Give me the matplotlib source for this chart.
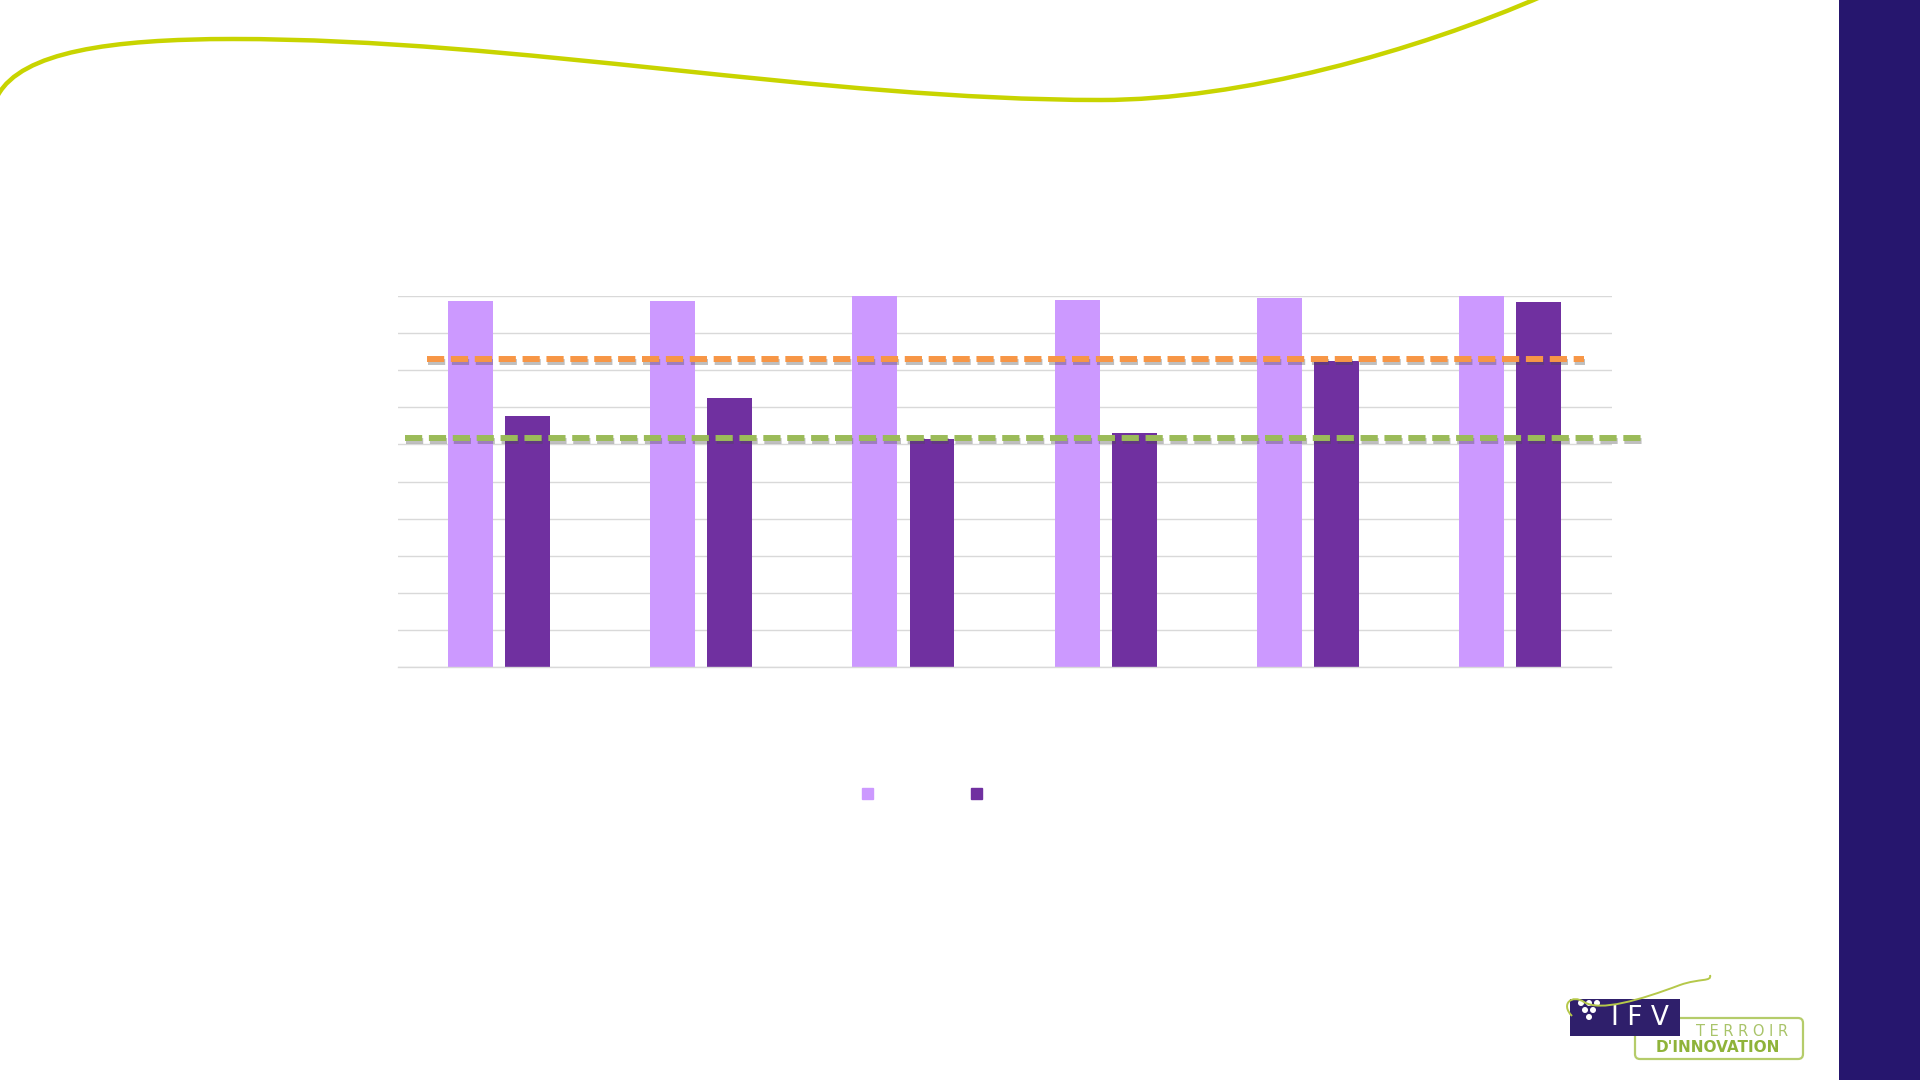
import numpy as np
import matplotlib
matplotlib.use("Agg")
import matplotlib.pyplot as plt
from matplotlib.patches import Rectangle, FancyBboxPatch, Patch, Circle, PathPatch
from matplotlib.path import Path
from matplotlib import patheffects as pe

# ---------------- data ----------------
categories = ["A", "B", "C", "D", "E", "F"]
series1 = [98.6, 98.6, 100.0, 99.0, 99.5, 100.0]   # light purple
series2 = [67.7, 72.5, 61.5, 63.2, 82.4, 98.3]     # dark purple
orange_threshold = 83.1
green_threshold = 61.8
y_ticks = [0, 10, 20, 30, 40, 50, 60, 70, 80, 90, 100]
legend_labels = ["", ""]

LIGHT = "#CC99FF"
DARK = "#7030A0"
ORANGE = "#F79646"
GREEN = "#9BBB59"
NAVY = "#26166E"
LIME = "#C8D400"

W, H = 1920, 1080
fig = plt.figure(figsize=(19.2, 10.8), dpi=100)
fig.patch.set_facecolor("white")

# ---------------- decorations (slide) ----------------
deco = fig.add_axes([0, 0, 1, 1])
deco.set_xlim(0, W)
deco.set_ylim(H, 0)
deco.axis("off")
deco.set_zorder(0)

# right band
deco.add_patch(Rectangle((1839, 0), W - 1839, H, color=NAVY, lw=0))

# top lime curve (cubic Bezier segments)
verts = [(-2, 95), (22, 52), (110, 39), (233, 39),
         (520, 39), (820, 100), (1101, 100),
         (1240, 100), (1415, 52), (1545, -5)]
codes = [Path.MOVETO] + [Path.CURVE4] * 9
deco.add_patch(PathPatch(Path(verts, codes), fill=False, ec=LIME, lw=3.2, capstyle="round"))

# logo
deco.add_patch(FancyBboxPatch((1635, 1018), 168, 41, boxstyle="round,pad=0,rounding_size=5",
                              fill=False, ec="#B5CC6A", lw=1.6, zorder=1))
deco.add_patch(Rectangle((1570, 999), 110, 37, color="#2F1F6B", lw=0, zorder=2))
deco.text(1640, 1018, "I F V", color="white", fontsize=19, ha="center", va="center",
          family="DejaVu Sans", fontweight="normal", zorder=3)
for (cx, cy) in [(1581, 1003), (1589, 1003), (1597, 1003), (1585, 1010), (1593, 1010), (1589, 1017)]:
    deco.add_patch(Circle((cx, cy), 3.0, color="white", lw=0, zorder=3))
deco.text(1742, 1032, "T E R R O I R", color="#A9C46A", fontsize=10.5, ha="center", va="center",
          family="DejaVu Sans", zorder=3)
deco.text(1718, 1047, "D'INNOVATION", color="#8FB33A", fontsize=11, ha="center", va="center",
          family="DejaVu Sans", fontweight="bold", zorder=3)
sw_verts = [(1572, 1016), (1560, 1004), (1572, 994), (1584, 1002),
            (1600, 1012), (1640, 1000), (1680, 985),
            (1700, 978), (1712, 982), (1710, 975)]
deco.add_patch(PathPatch(Path(sw_verts, [Path.MOVETO] + [Path.CURVE4] * 9), fill=False,
                         ec="#B5C84A", lw=1.4, zorder=4))

# ---------------- chart ----------------
ax = fig.add_axes([397.7 / W, 1 - 667 / H, (1611.5 - 397.7) / W, (667 - 296) / H])
ax.set_zorder(2)
ax.patch.set_alpha(0)
x = np.arange(len(categories))
bw = 0.222
off = 0.141
ax.bar(x - off, series1, bw, color=LIGHT, zorder=2)
ax.bar(x + off, series2, bw, color=DARK, zorder=2)
ax.set_xlim(-0.5, len(categories) - 0.5)
ax.set_ylim(0, 100)
ax.set_yticks(y_ticks)
ax.yaxis.grid(True, color="#D9D9D9", lw=1.0, zorder=0)
ax.set_axisbelow(True)
ax.tick_params(length=0, labelleft=False, labelbottom=False)
for s in ["left", "right", "top"]:
    ax.spines[s].set_visible(False)
ax.spines["bottom"].set_color("#D9D9D9")
ax.spines["bottom"].set_linewidth(1.0)

shadow = [pe.SimpleLineShadow(offset=(0.8, -2.5), shadow_color="#4a4a4a", alpha=0.35), pe.Normal()]
ax.axhline(orange_threshold, xmin=0.024, xmax=0.977, color=ORANGE, lw=4.3,
           dashes=(2.88, 1.12), zorder=4, clip_on=False, path_effects=shadow)
ax.axhline(green_threshold, xmin=0.006, xmax=1.025, color=GREEN, lw=4.3,
           dashes=(2.88, 1.12), zorder=4, clip_on=False, path_effects=shadow)

fig.legend(handles=[Patch(color=LIGHT), Patch(color=DARK)], labels=legend_labels,
           loc="center", bbox_to_anchor=(924 / W, 1 - 795 / H), ncol=2, frameon=False,
           fontsize=14, handlelength=0.55, handleheight=0.55, handletextpad=0.2,
           columnspacing=4.85)

fig.savefig("out.png", dpi=100, facecolor="white")
